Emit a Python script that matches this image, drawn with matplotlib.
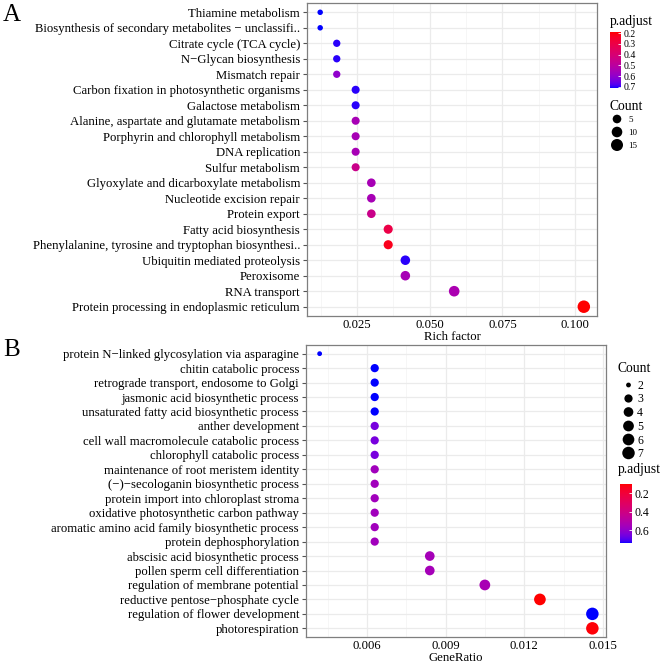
import numpy as np
import matplotlib
matplotlib.use("Agg")
import matplotlib.pyplot as plt
from matplotlib.colors import ListedColormap, Normalize
from matplotlib.cm import ScalarMappable
from matplotlib.ticker import FormatStrFormatter

plt.rcParams['font.family'] = ['Liberation Serif', 'DejaVu Serif']

# ---- panel A: KEGG ----
kegg_terms = [
    "Thiamine metabolism",
    "Biosynthesis of secondary metabolites \u2212 unclassifi..",
    "Citrate cycle (TCA cycle)",
    "N\u2212Glycan biosynthesis",
    "Mismatch repair",
    "Carbon fixation in photosynthetic organisms",
    "Galactose metabolism",
    "Alanine, aspartate and glutamate metabolism",
    "Porphyrin and chlorophyll metabolism",
    "DNA replication",
    "Sulfur metabolism",
    "Glyoxylate and dicarboxylate metabolism",
    "Nucleotide excision repair",
    "Protein export",
    "Fatty acid biosynthesis",
    "Phenylalanine, tyrosine and tryptophan biosynthesi..",
    "Ubiquitin mediated proteolysis",
    "Peroxisome",
    "RNA transport",
    "Protein processing in endoplasmic reticulum",
]
kegg_rich = [0.0123, 0.0123, 0.0180, 0.0180, 0.0180, 0.0245, 0.0245, 0.0245,
             0.0245, 0.0245, 0.0245, 0.0299, 0.0299, 0.0299, 0.0357, 0.0357,
             0.0416, 0.0416, 0.0584, 0.1030]
kegg_count = [2, 2, 3, 3, 3, 4, 4, 4, 4, 4, 4, 5, 5, 5, 6, 6, 7, 7, 10, 17]
kegg_padj = [0.71, 0.71, 0.70, 0.70, 0.60, 0.70, 0.70, 0.55, 0.55, 0.55,
             0.45, 0.55, 0.55, 0.45, 0.30, 0.22, 0.70, 0.55, 0.54, 0.19]
kegg_xticks = [0.025, 0.050, 0.075, 0.100]
kegg_xminor = [0.0125, 0.0375, 0.0625, 0.0875]
kegg_size_breaks = [5, 10, 15]
kegg_padj_breaks = [0.2, 0.3, 0.4, 0.5, 0.6, 0.7]

# ---- panel B: GO ----
go_terms = [
    "protein N\u2212linked glycosylation via asparagine",
    "chitin catabolic process",
    "retrograde transport, endosome to Golgi",
    "jasmonic acid biosynthetic process",
    "unsaturated fatty acid biosynthetic process",
    "anther development",
    "cell wall macromolecule catabolic process",
    "chlorophyll catabolic process",
    "maintenance of root meristem identity",
    "(\u2212)\u2212secologanin biosynthetic process",
    "protein import into chloroplast stroma",
    "oxidative photosynthetic carbon pathway",
    "aromatic amino acid family biosynthetic process",
    "protein dephosphorylation",
    "abscisic acid biosynthetic process",
    "pollen sperm cell differentiation",
    "regulation of membrane potential",
    "reductive pentose\u2212phosphate cycle",
    "regulation of flower development",
    "photorespiration",
]
go_ratio = [0.0042] + [0.0063] * 13 + [0.0084, 0.0084, 0.0105, 0.0126, 0.0146, 0.0146]
go_count = [2] + [3] * 13 + [4, 4, 5, 6, 7, 7]
go_padj = [0.74, 0.74, 0.74, 0.74, 0.74, 0.65, 0.65, 0.65, 0.56, 0.56,
           0.56, 0.56, 0.56, 0.56, 0.55, 0.55, 0.54, 0.10, 0.74, 0.11]
go_xticks = [0.006, 0.009, 0.012, 0.015]
go_xminor = [0.0045, 0.0075, 0.0105, 0.0135]
go_size_breaks = [2, 3, 4, 5, 6, 7]
go_padj_breaks = [0.2, 0.4, 0.6]

W, H = 669, 666
FS = 9.2


# red -> blue gradient interpolated in Lab, like ggplot's continuous colour scale
M = np.array([[0.4124, 0.3576, 0.1805], [0.2126, 0.7152, 0.0722], [0.0193, 0.1192, 0.9505]])
WHITE = np.array([0.95047, 1.0, 1.08883])


def to_lab(rgb):
    c = np.asarray(rgb, float)
    lin = np.where(c <= 0.04045, c / 12.92, ((c + 0.055) / 1.055) ** 2.4)
    xyz = M @ lin / WHITE
    f = np.where(xyz > 0.008856, np.cbrt(xyz), 7.787 * xyz + 16 / 116)
    return np.array([116 * f[1] - 16, 500 * (f[0] - f[1]), 200 * (f[1] - f[2])])


def from_lab(lab):
    fy = (lab[0] + 16) / 116
    f = np.array([fy + lab[1] / 500, fy, fy - lab[2] / 200])
    xyz = np.where(f ** 3 > 0.008856, f ** 3, (f - 16 / 116) / 7.787) * WHITE
    lin = np.clip(np.linalg.inv(M) @ xyz, 0, 1)
    c = np.where(lin <= 0.0031308, 12.92 * lin, 1.055 * lin ** (1 / 2.4) - 0.055)
    return np.clip(c, 0, 1)


lab_lo, lab_hi = to_lab([1, 0, 0]), to_lab([0, 0, 1])
cmap = ListedColormap([from_lab(lab_lo + t * (lab_hi - lab_lo)) for t in np.linspace(0, 1, 256)])


def diam_to_s(d_px):
    return (np.asarray(d_px) * 0.72) ** 2


def size_fn(v, vmin, vmax, dmin, dmax):
    v = np.asarray(v, float)
    return diam_to_s(dmin + (dmax - dmin) * np.sqrt((v - vmin) / (vmax - vmin)))


def px_axes(left, top, right, bottom):
    return fig.add_axes([left / W, 1 - bottom / H, (right - left) / W, (bottom - top) / H])


def draw_panel(ax, terms, x, sizes, padj, norm, xticks, xminor, xlabel):
    y = np.arange(len(terms))
    ax.scatter(x, y, s=sizes, c=padj, cmap=cmap, norm=norm, edgecolors='none', zorder=3)
    ax.set_yticks(y)
    ax.set_yticklabels(terms, fontsize=FS)
    ax.set_ylim(len(terms) - 0.4, -0.6)
    lo, hi = min(x), max(x)
    ax.set_xlim(lo - 0.05 * (hi - lo), hi + 0.05 * (hi - lo))
    ax.set_xticks(xticks)
    ax.set_xticks(xminor, minor=True)
    ax.xaxis.set_major_formatter(FormatStrFormatter('%.3f'))
    ax.grid(which='major', color='#EBEBEB', lw=0.9)
    ax.grid(which='minor', axis='x', color='#F3F3F3', lw=0.5)
    ax.set_axisbelow(True)
    ax.tick_params(axis='x', which='both', length=0, labelsize=FS, pad=2.5)
    ax.tick_params(axis='y', length=3, color='#555555', pad=2)
    ax.set_xlabel(xlabel, fontsize=FS, labelpad=0)
    for sp in ax.spines.values():
        sp.set_color('#7F7F7F')
        sp.set_linewidth(0.9)


def draw_colorbar(box, norm, ticks, labelsize):
    cax = px_axes(*box)
    cb = fig.colorbar(ScalarMappable(norm=norm, cmap=cmap), cax=cax)
    cb.set_ticks(ticks)
    cb.ax.yaxis.set_major_formatter(FormatStrFormatter('%.1f'))
    cb.ax.invert_yaxis()
    cb.outline.set_visible(False)
    cb.ax.tick_params(color='white', direction='in', length=2, width=0.6,
                      labelsize=labelsize, pad=2)


fig = plt.figure(figsize=(W / 100, H / 100), dpi=100)

# panel A
norm_a = Normalize(min(kegg_padj), max(kegg_padj))
ax_a = px_axes(307, 3, 597, 316)
size_a = (min(kegg_count), max(kegg_count), 5.5, 12.5)
draw_panel(ax_a, kegg_terms, kegg_rich, size_fn(kegg_count, *size_a),
           kegg_padj, norm_a, kegg_xticks, kegg_xminor, "Rich factor")

# panel B
norm_b = Normalize(min(go_padj), max(go_padj))
ax_b = px_axes(306, 345, 606, 637)
size_b = (min(go_count), max(go_count), 4.8, 12.5)
draw_panel(ax_b, go_terms, go_ratio, size_fn(go_count, *size_b),
           go_padj, norm_b, go_xticks, go_xminor, "GeneRatio")

fig.text(3 / W, 1 - 15 / H, "A", fontsize=18, va='center', ha='left')
fig.text(3 / W, 1 - 350 / H, "B", fontsize=18, va='center', ha='left')

# legends drawn on an overlay in pixel units
lax = fig.add_axes([0, 0, 1, 1])
lax.set_xlim(0, W)
lax.set_ylim(H, 0)
lax.axis('off')

# A: p.adjust then Count
lax.text(610, 21, "p.adjust", fontsize=9.8, va='center', ha='left')
draw_colorbar((610, 32, 621, 88), norm_a, kegg_padj_breaks, 7)
lax.text(610, 106, "Count", fontsize=9.8, va='center', ha='left')
ka_y = [119, 132, 145]
lax.scatter([617] * 3, ka_y, s=size_fn(kegg_size_breaks, *size_a),
            c='black', edgecolors='none')
for yy, v in zip(ka_y, kegg_size_breaks):
    lax.text(628, yy + 1, str(v), fontsize=6.5, va='center', ha='left')

# B: Count then p.adjust
lax.text(618, 369, "Count", fontsize=9.8, va='center', ha='left')
kb_y = [385, 398.5, 412, 426, 439.5, 453]
lax.scatter([628.5] * 6, kb_y, s=size_fn(go_size_breaks, *size_b),
            c='black', edgecolors='none')
for yy, v in zip(kb_y, go_size_breaks):
    lax.text(637, yy + 1, str(v), fontsize=8.5, va='center', ha='left')
lax.text(618, 469, "p.adjust", fontsize=9.8, va='center', ha='left')
draw_colorbar((620, 484, 632, 543), norm_b, go_padj_breaks, 8.5)

fig.savefig("out.png", dpi=100)
